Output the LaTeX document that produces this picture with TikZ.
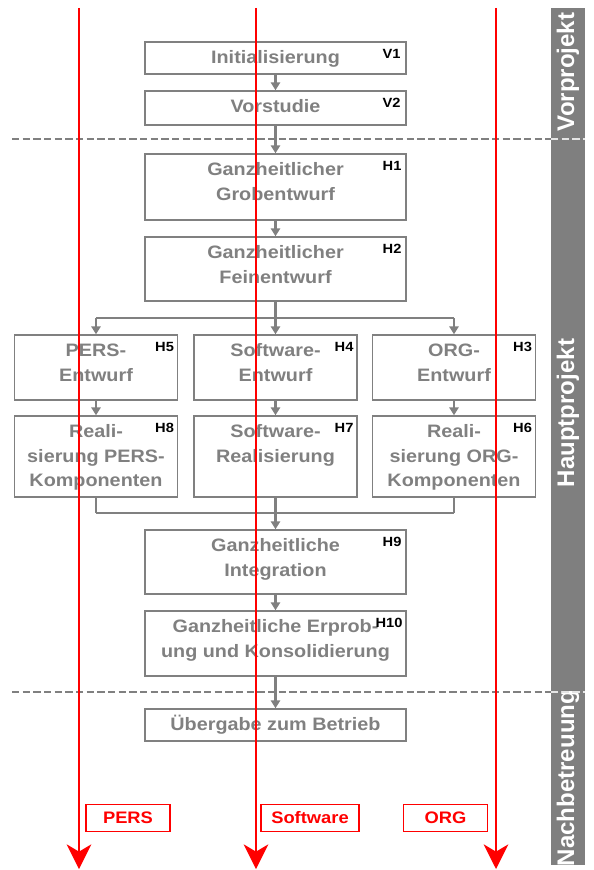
\documentclass[tikz,border=0pt]{standalone}
\usepackage{fontspec}
\setmainfont{Liberation Sans}[FakeStretch=1.1]
\newfontfamily\barfont{Liberation Sans}
\usetikzlibrary{arrows.meta,calc}
\definecolor{boxgray}{HTML}{808080}
\definecolor{bargray}{HTML}{7F7F7F}
\definecolor{redc}{HTML}{FF0000}
\newcommand\tstrut{\rule{0pt}{16.5pt}}
\begin{document}
\begin{tikzpicture}[x=0.75pt,y=-0.75pt,
  box/.style={draw=boxgray, line width=1.1pt, fill=white, inner sep=0pt},
  wide/.style={box, minimum width=195.75pt},
  narrow/.style={box, minimum width=122.25pt},
  btext/.style={anchor=north, inner sep=0pt, align=center, text=boxgray,
    font=\bfseries\fontsize{13.5}{18.4}\selectfont},
  tag/.style={anchor=north east, inner sep=0pt, text=black,
    font=\bfseries\fontsize{10}{12}\selectfont},
  conn/.style={draw=boxgray, line width=1.6pt},
  arr/.style={conn, -{Triangle[length=6pt,width=7pt]}},
  dashl/.style={draw=boxgray, line width=1.5pt, dash pattern=on 5.5pt off 2.5pt},
  dashlight/.style={draw=white!80!gray, line width=1.5pt, dash pattern=on 5.5pt off 2.5pt},
  redline/.style={draw=redc, line width=1.1pt, -{Stealth[length=18.5pt,width=18.5pt,inset=5.5pt]}},
  redlab/.style={draw=redc, line width=1.1pt, fill=white, text=redc, inner sep=0pt,
    minimum width=63pt, minimum height=20pt, font=\bfseries\fontsize{12.5}{14}\selectfont},
  barlab/.style={rotate=90, text=white, inner sep=0pt, font=\barfont\bfseries\fontsize{18}{20}\selectfont}
]
\useasboundingbox (0,0) rectangle (593,870);
% side bar
\fill[bargray] (551,8) rectangle (585,865);
\node[barlab] (lvor) at (568,72) {Vorprojekt};
\node[barlab] (lhaupt) at (568,413) {Hauptprojekt};
\node[barlab] (lnach) at (568,778) {Nachbetreuung};
% dashed separators
\coordinate (d1a) at (12,139); \coordinate (d1b) at (551,139); \coordinate (d1c) at (585,139);
\coordinate (d2a) at (12,692); \coordinate (d2b) at (551,692); \coordinate (d2c) at (585,692);
\draw[dashl] (d1a) -- (d1b);
\draw[dashlight] (d1b) -- (d1c);
\draw[dashl] (d2a) -- (d2b);
\draw[dashlight] (d2b) -- (d2c);
% boxes
\node[wide, minimum height=24pt] (v1) at (275.5,58) {};
\node[wide, minimum height=25.5pt] (v2) at (275.5,108) {};
\node[wide, minimum height=49.5pt] (h1) at (275.5,187) {};
\node[wide, minimum height=48pt] (h2) at (275.5,269) {};
\node[narrow, minimum height=48.75pt] (h5) at (96,367.5) {};
\node[narrow, minimum height=48.75pt] (h4) at (275.5,367.5) {};
\node[narrow, minimum height=48.75pt] (h3) at (454,367.5) {};
\node[narrow, minimum height=60.75pt] (h8) at (96,456.5) {};
\node[narrow, minimum height=60.75pt] (h7) at (275.5,456.5) {};
\node[narrow, minimum height=60.75pt] (h6) at (454,456.5) {};
\node[wide, minimum height=48pt] (h9) at (275.5,562) {};
\node[wide, minimum height=48.75pt] (h10) at (275.5,643.5) {};
\node[wide, minimum height=24pt] (ueb) at (275.5,725) {};
% box texts
\node[btext] (tv1) at (v1.north) {\tstrut Initialisierung};
\node[btext] (tv2) at (v2.north) {\tstrut Vorstudie};
\node[btext] (th1) at (h1.north) {\tstrut Ganzheitlicher\\Grobentwurf};
\node[btext] (th2) at (h2.north) {\tstrut Ganzheitlicher\\Feinentwurf};
\node[btext] (th5) at (h5.north) {\tstrut PERS-\\Entwurf};
\node[btext] (th4) at (h4.north) {\tstrut Software-\\Entwurf};
\node[btext] (th3) at (h3.north) {\tstrut ORG-\\Entwurf};
\node[btext] (th8) at (h8.north) {\tstrut Reali-\\sierung PERS-\\Komponenten};
\node[btext] (th7) at (h7.north) {\tstrut Software-\\Realisierung};
\node[btext] (th6) at (h6.north) {\tstrut Reali-\\sierung ORG-\\Komponenten};
\node[btext] (th9) at (h9.north) {\tstrut Ganzheitliche\\Integration};
\node[btext] (th10) at (h10.north) {\tstrut Ganzheitliche Erprob-\\ung und Konsolidierung};
\node[btext] (tueb) at (ueb.north) {\tstrut Übergabe zum Betrieb};
% tags
\node[tag] (gv1) at ($(v1.north east)+(-6,8)$) {V1};
\node[tag] (gv2) at ($(v2.north east)+(-6,8)$) {V2};
\node[tag] (gh1) at ($(h1.north east)+(-5,8)$) {H1};
\node[tag] (gh2) at ($(h2.north east)+(-5,8)$) {H2};
\node[tag] (gh5) at ($(h5.north east)+(-4,8)$) {H5};
\node[tag] (gh4) at ($(h4.north east)+(-4,8)$) {H4};
\node[tag] (gh3) at ($(h3.north east)+(-4,8)$) {H3};
\node[tag] (gh8) at ($(h8.north east)+(-4,8)$) {H8};
\node[tag] (gh7) at ($(h7.north east)+(-4,8)$) {H7};
\node[tag] (gh6) at ($(h6.north east)+(-4,8)$) {H6};
\node[tag] (gh9) at ($(h9.north east)+(-5,8)$) {H9};
\node[tag] (gh10) at ($(h10.north east)+(-4,8)$) {H10};
% connectors
\draw[arr] (v1) -- (v2);
\draw[arr] (v2) -- (h1);
\draw[arr] (h1) -- (h2);
\coordinate (bl) at (96,318); \coordinate (bj) at (275.5,318); \coordinate (br) at (454,318);
\draw[conn] (h2) -- (bj);
\draw[conn] (bl) -- (br);
\draw[arr] (bl) -- (h5);
\draw[arr] (bj) -- (h4);
\draw[arr] (br) -- (h3);
\draw[arr] (h5) -- (h8);
\draw[arr] (h4) -- (h7);
\draw[arr] (h3) -- (h6);
\coordinate (ml) at (96,513); \coordinate (mj) at (275.5,513); \coordinate (mr) at (454,513);
\draw[conn] (h8) -- (ml);
\draw[conn] (h7) -- (mj);
\draw[conn] (h6) -- (mr);
\draw[conn] (ml) -- (mr);
\draw[arr] (mj) -- (h9);
\draw[arr] (h9) -- (h10);
\draw[arr] (h10) -- (ueb);
% red lanes
\coordinate (ra0) at (79,8); \coordinate (ra1) at (79,869);
\coordinate (rb0) at (256,8); \coordinate (rb1) at (256,869);
\coordinate (rc0) at (496,8); \coordinate (rc1) at (496,869);
\draw[redline] (ra0) -- (ra1);
\draw[redline] (rb0) -- (rb1);
\draw[redline] (rc0) -- (rc1);
\node[redlab] (lpers) at (128,818) {PERS};
\node[redlab, minimum width=73.5pt] (lsoft) at (310,818) {Software};
\node[redlab] (lorg) at (445.5,818) {ORG};
\end{tikzpicture}
\end{document}
